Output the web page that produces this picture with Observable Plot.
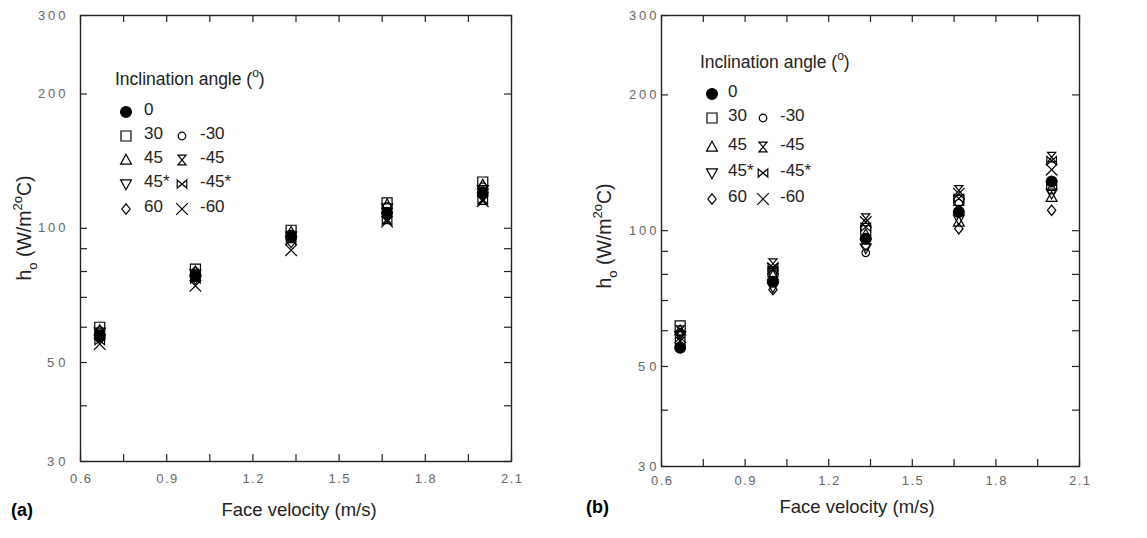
<!DOCTYPE html>
<html><head><meta charset="utf-8">
<script src="https://cdn.jsdelivr.net/npm/d3@7"></script>
<script src="https://cdn.jsdelivr.net/npm/@observablehq/plot@0.6"></script>
<style>
body{margin:0;background:#fff;}
#wrap{position:relative;width:1147px;height:538px;overflow:hidden;background:#fff;}
#wrap svg{position:absolute;top:0;}
</style></head><body><div id="wrap"></div>
<script>
// ---------- data ----------
const velocity = [0.667, 1.0, 1.333, 1.667, 2.0];
const angleLabels = ["0", "30", "-30", "45", "-45", "45*", "-45*", "60", "-60"];
const xTickLabels = [0.6, 0.9, 1.2, 1.5, 1.8, 2.1];
const xMinorTicks = [0.75, 1.05, 1.35, 1.65, 1.95];
const yTickLabels = [30, 50, 100, 200, 300];
const yMinorTicks = [40, 60, 70, 80, 90];

// panel (a)
const a_0     = [57.5, 78.3, 95.3, 108.4, 120.3];
const a_30    = [60.0, 81.0, 99.0, 114.0, 127.0];
const a_m30   = [59.0, 80.0, 97.0, 112.0, 124.0];
const a_45    = [59.0, 80.0, 98.0, 113.0, 125.0];
const a_m45   = [58.0, 78.0, 96.0, 105.0, 116.0];
const a_45s   = [58.5, 79.0, 96.0, 111.0, 122.0];
const a_m45s  = [56.0, 77.0, 94.0, 104.0, 116.0];
const a_60    = [57.0, 77.0, 93.0, 107.0, 119.0];
const a_m60   = [55.0, 74.3, 89.3, 103.5, 115.0];

// panel (b)
const b_0     = [55.0, 77.0, 96.0, 110.0, 128.6];
const b_30    = [61.5, 81.0, 100.0, 116.7, 126.0];
const b_m30   = [59.5, 80.0, 89.3, 115.0, 123.0];
const b_45    = [60.0, 79.5, 98.0, 104.5, 118.6];
const b_m45   = [60.0, 84.5, 106.3, 122.8, 145.6];
const b_45s   = [58.5, 75.0, 91.5, 106.0, 121.0];
const b_m45s  = [57.0, 83.0, 101.8, 118.0, 143.0];
const b_60    = [59.0, 74.0, 92.8, 101.0, 111.0];
const b_m60   = [58.0, 82.4, 104.5, 120.8, 136.5];

const seriesA = [a_0, a_30, a_m30, a_45, a_m45, a_45s, a_m45s, a_60, a_m60];
const seriesB = [b_0, b_30, b_m30, b_45, b_m45, b_45s, b_m45s, b_60, b_m60];

// ---------- symbols ----------
function sym(fn) { return {draw(c, size) { const r = Math.sqrt(size / Math.PI); fn(c, r); }}; }
const SYM = {
  circle: sym((c, r) => { c.moveTo(r, 0); c.arc(0, 0, r, 0, 2 * Math.PI); }),
  square: sym((c, r) => { c.moveTo(-r, -r); c.lineTo(r, -r); c.lineTo(r, r); c.lineTo(-r, r); c.closePath(); }),
  triUp: sym((c, r) => { c.moveTo(0, -r * 1.1); c.lineTo(r * 1.05, r * 0.8); c.lineTo(-r * 1.05, r * 0.8); c.closePath(); }),
  triDown: sym((c, r) => { c.moveTo(0, r * 1.1); c.lineTo(r * 1.05, -r * 0.8); c.lineTo(-r * 1.05, -r * 0.8); c.closePath(); }),
  hourglass: sym((c, r) => { c.moveTo(-r * 0.85, -r); c.lineTo(r * 0.85, -r); c.lineTo(-r * 0.85, r); c.lineTo(r * 0.85, r); c.closePath(); }),
  bowtie: sym((c, r) => { c.moveTo(-r, -r * 0.85); c.lineTo(r, r * 0.85); c.lineTo(r, -r * 0.85); c.lineTo(-r, r * 0.85); c.closePath(); }),
  diamond: sym((c, r) => { c.moveTo(0, -r); c.lineTo(r * 0.8, 0); c.lineTo(0, r); c.lineTo(-r * 0.8, 0); c.closePath(); }),
  cross: sym((c, r) => { c.moveTo(-r, -r); c.lineTo(r, r); c.moveTo(r, -r); c.lineTo(-r, r); })
};
const style = {
  "0":    {symbol: SYM.circle,    r: 5.4, fill: "#000"},
  "30":   {symbol: SYM.square,    r: 5.0, fill: "none"},
  "-30":  {symbol: SYM.circle,    r: 3.8, fill: "none"},
  "45":   {symbol: SYM.triUp,     r: 5.2, fill: "none"},
  "-45":  {symbol: SYM.hourglass, r: 4.8, fill: "none"},
  "45*":  {symbol: SYM.triDown,   r: 5.2, fill: "none"},
  "-45*": {symbol: SYM.bowtie,    r: 4.8, fill: "none"},
  "60":   {symbol: SYM.diamond,   r: 5.2, fill: "none"},
  "-60":  {symbol: SYM.cross,     r: 5.8, fill: "none"}
};

const FONT = "'Liberation Sans', Arial, Helvetica, sans-serif";

function buildRows(series) {
  const rows = [];
  series.forEach((vals, i) => vals.forEach((h, j) => rows.push({angle: angleLabels[i], v: velocity[j], h})));
  return rows;
}

function panel(opts) {
  const {series, left, width, height, mL, mR, mT, mB, xPad, yPad, tag, tagX, tagY, xlabX, xlabY, ylabX, ylabY, lg} = opts;
  const rows = buildRows(series);
  const pw = width - mL - mR, ph = height - mT - mB, T = 7;
  const order = angleLabels.slice(1).concat(["0"]);
  const dots = order.map(a => {
    const s = style[a];
    return Plot.dot(rows.filter(d => d.angle === a), {
      x: "v", y: "h", symbol: s.symbol, r: s.r,
      fill: s.fill, stroke: "#000", strokeWidth: 1.2
    });
  });
  const xt = xTickLabels.concat(xMinorTicks), yt = yTickLabels.concat(yMinorTicks);
  const svg = Plot.plot({
    width, height,
    marginLeft: mL, marginRight: mR, marginTop: mT, marginBottom: mB,
    style: {fontFamily: FONT, fontSize: "13px", background: "transparent", overflow: "visible"},
    x: {domain: [0.6, 2.1], ticks: xTickLabels, tickSize: 0, tickPadding: xPad, tickFormat: d3.format(".1f"), label: null},
    y: {type: "log", domain: [30, 300], ticks: yTickLabels, tickSize: 0, tickPadding: yPad, tickFormat: d => String(d), label: null},
    marks: [
      Plot.tickX(xt, {x: d => d, insetTop: ph - T, stroke: "#222", strokeWidth: 1.2}),
      Plot.tickX(xt, {x: d => d, insetBottom: ph - T, stroke: "#222", strokeWidth: 1.2}),
      Plot.tickY(yt, {y: d => d, insetRight: pw - T, stroke: "#222", strokeWidth: 1.2}),
      Plot.tickY(yt, {y: d => d, insetLeft: pw - T, stroke: "#222", strokeWidth: 1.2}),
      ...dots,
      Plot.frame({stroke: "#222", strokeWidth: 1.4})
    ]
  });
  svg.style.left = left + "px";
  const s = d3.select(svg);
  // only axis tick labels exist as text at this point: spread their glyphs like the reference
  s.selectAll("text").each(function() {
    const t = d3.select(this);
    const str = this.textContent || "";
    const isX = str.includes(".");
    const len = isX ? 21 : str.length * 9.2;
    t.attr("fill", "#666").attr("font-size", 13).attr("font-family", FONT)
      .attr("textLength", len).attr("lengthAdjust", "spacing");
  });

  // panel tag
  s.append("text").attr("x", tagX).attr("y", tagY).attr("text-anchor", "start").attr("font-family", FONT)
    .attr("font-size", 18).attr("font-weight", "bold").text(tag);
  // x label
  s.append("text").attr("x", xlabX).attr("y", xlabY).attr("text-anchor", "middle")
    .attr("font-family", FONT).attr("font-size", 18.5).attr("fill", "#222").text("Face velocity (m/s)");
  // y label
  const yl = s.append("text").attr("transform", `translate(${ylabX},${ylabY}) rotate(-90)`)
    .attr("text-anchor", "middle").attr("font-family", FONT).attr("font-size", 19.5).attr("fill", "#222");
  yl.append("tspan").text("h");
  yl.append("tspan").attr("font-size", 13).attr("dy", 6).text("o");
  yl.append("tspan").attr("dy", -6).text(" (W/m");
  yl.append("tspan").attr("font-size", 13).attr("dy", -9).text("2o");
  yl.append("tspan").attr("dy", 9).text("C)");

  // legend
  const L = s.append("g").attr("font-family", FONT).attr("fill", "#222").attr("text-anchor", "start");
  const lt = L.append("text").attr("x", lg.titleX).attr("y", lg.titleY).attr("font-size", 17.5).attr("text-anchor", "start");
  lt.append("tspan").text("Inclination angle (");
  lt.append("tspan").attr("font-size", 12).attr("dy", -8).text("o");
  lt.append("tspan").attr("dy", 8).text(")");
  const layout = [["0", null], ["30", "-30"], ["45", "-45"], ["45*", "-45*"], ["60", "-60"]];
  const pathOf = (a) => { const p = d3.path(); const st = style[a]; st.symbol.draw(p, Math.PI * st.r * st.r); return p.toString(); };
  layout.forEach(([c1, c2], i) => {
    const y = lg.rows[i];
    [[c1, lg.m1, lg.t1], [c2, lg.m2, lg.t2]].forEach(([a, mx, tx]) => {
      if (a == null) return;
      const st = style[a];
      L.append("path").attr("d", pathOf(a)).attr("transform", `translate(${mx},${y})`)
        .attr("fill", st.fill).attr("stroke", "#000").attr("stroke-width", 1.2);
      L.append("text").attr("x", tx).attr("y", y - 3).attr("dy", "0.35em").attr("font-size", 17)
        .attr("text-anchor", "start").text(a);
    });
  });
  return svg;
}

const wrap = document.getElementById("wrap");
wrap.appendChild(panel({
  series: seriesA, left: 0, width: 560, height: 538,
  mL: 80, mR: 49, mT: 15, mB: 77, xPad: 12, yPad: 15,
  tag: "(a)", tagX: 11, tagY: 516, xlabX: 299, xlabY: 516, ylabX: 31, ylabY: 228,
  lg: {titleX: 115, titleY: 85, rows: [112, 136, 160, 184, 209], m1: 126, t1: 144, m2: 182, t2: 200}
}));
wrap.appendChild(panel({
  series: seriesB, left: 570, width: 577, height: 538,
  mL: 91, mR: 68, mT: 15, mB: 72, xPad: 9, yPad: 5,
  tag: "(b)", tagX: 16, tagY: 513, xlabX: 287, xlabY: 513, ylabX: 41, ylabY: 236,
  lg: {titleX: 130, titleY: 68, rows: [94, 118, 147, 173, 199], m1: 142, t1: 158, m2: 193, t2: 210}
}));
</script></body></html>
